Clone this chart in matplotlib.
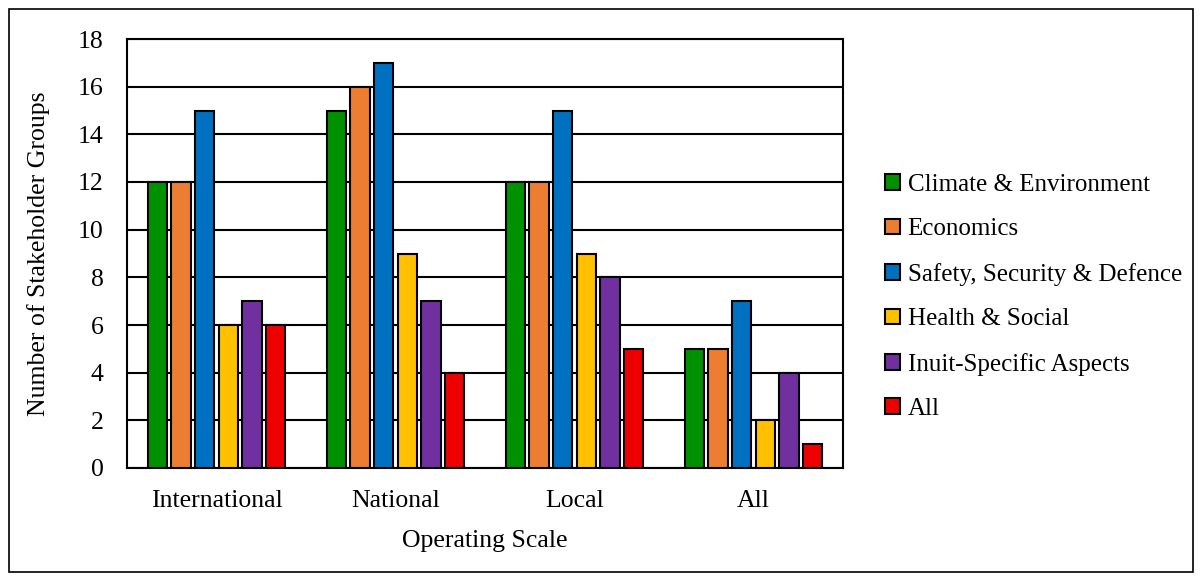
import matplotlib
matplotlib.use("Agg")
import matplotlib.pyplot as plt
import numpy as np
from matplotlib.patches import Rectangle

categories = ["International", "National", "Local", "All"]
series_names = ["Climate & Environment", "Economics", "Safety, Security & Defence",
                "Health & Social", "Inuit-Specific Aspects", "All"]
climate = [12, 15, 12, 5]
economics = [12, 16, 12, 5]
safety = [15, 17, 15, 7]
health = [6, 9, 9, 2]
inuit = [7, 7, 8, 4]
all_aspects = [6, 4, 5, 1]
series_values = [climate, economics, safety, health, inuit, all_aspects]
colors = ["#009100", "#ED7D31", "#0070C0", "#FFC000", "#7030A0", "#EE0000"]
yticks = [0, 2, 4, 6, 8, 10, 12, 14, 16, 18]

plt.rcParams['font.family'] = ['Liberation Serif', 'DejaVu Serif']

fig = plt.figure(figsize=(12.02, 5.81), dpi=100)
ax = fig.add_axes([127/1202, 1-468/581, (843-127)/1202, (468-39)/581])

x = np.arange(len(categories))
slot = 0.132
bw = 0.108
for i, (vals, c, name) in enumerate(zip(series_values, colors, series_names)):
    ax.bar(x + (i - 2.5) * slot, vals, width=bw, color=c, edgecolor='black',
           linewidth=1.5, label=name, zorder=3)

ax.set_xlim(-0.5, 3.5)
ax.set_ylim(0, 18)
ax.set_yticks(yticks)
ax.set_xticks(x)
ax.set_xticklabels(categories)
ax.tick_params(axis='both', length=0, labelsize=18.5)
ax.tick_params(axis='x', pad=16)
ax.tick_params(axis='y', pad=17)
ax.yaxis.grid(True, color='black', linewidth=1.5, zorder=0)
ax.set_axisbelow(True)
for s in ax.spines.values():
    s.set_linewidth(1.5)
    s.set_color('black')

ax.set_ylabel("Number of Stakeholder Groups", fontsize=18.5, labelpad=20)
ax.set_xlabel("Operating Scale", fontsize=18.5, labelpad=13)

leg = ax.legend(loc='center left', frameon=False,
                fontsize=18, handlelength=0.6, handleheight=0.6, handletextpad=0.3,
                labelspacing=0.9, borderaxespad=0, borderpad=0)
leg.set_bbox_to_anchor((885/1202, 1-297/581), transform=fig.transFigure)

fig.patches.append(Rectangle((9/1202, 1-572/581), (1193-9)/1202, (572-9)/581,
                             transform=fig.transFigure, fill=False, edgecolor='black',
                             linewidth=1.2))

fig.savefig("out.png", dpi=100)
